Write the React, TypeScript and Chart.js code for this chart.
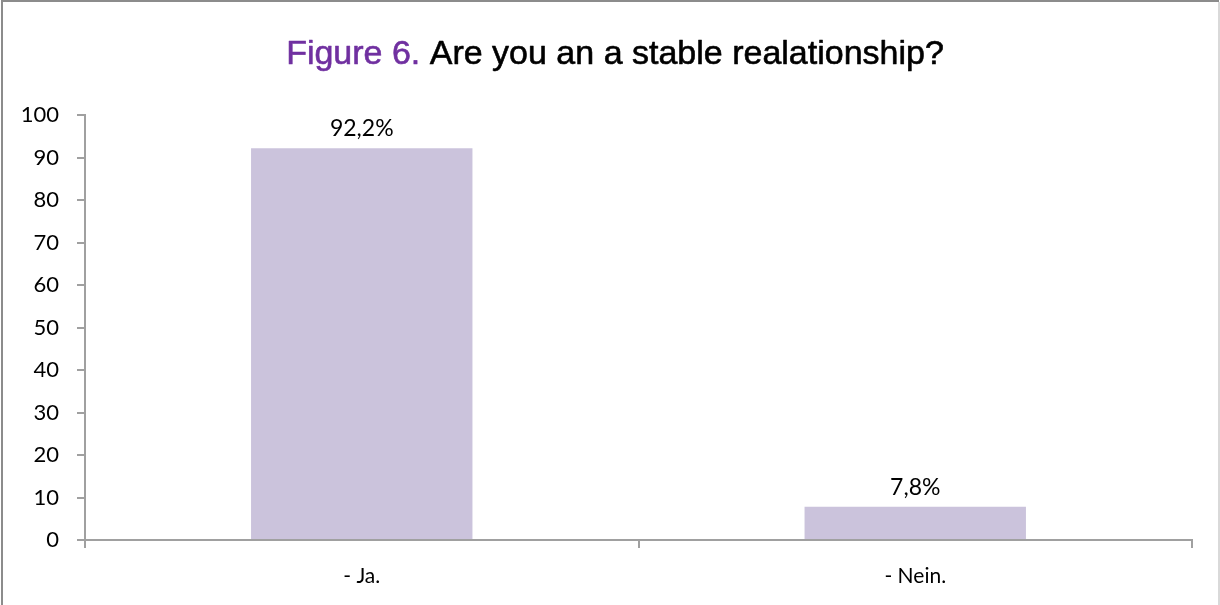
import React, { useEffect, useRef } from "react";
import { Chart, registerables } from "chart.js";

Chart.register(...registerables);

const categories = ["- Ja.", "- Nein."];
const values = [92.2, 7.8];
const yTicks = [0, 10, 20, 30, 40, 50, 60, 70, 80, 90, 100];
const titlePrefix = "Figure 6.";
const titleRest = " Are you an a stable realationship?";

const frameAndTitle = {
  id: "frameAndTitle",
  afterDraw(chart: any) {
    const ctx = chart.ctx;
    ctx.save();
    // frame
    ctx.strokeStyle = "#8c8c8c";
    ctx.lineWidth = 2;
    ctx.beginPath();
    ctx.moveTo(2, 605);
    ctx.lineTo(2, 1);
    ctx.lineTo(1219, 1);
    ctx.stroke();
    ctx.strokeStyle = "#d9d9d9";
    ctx.lineWidth = 2;
    ctx.beginPath();
    ctx.moveTo(1219, 2);
    ctx.lineTo(1219, 605);
    ctx.stroke();
    // title
    ctx.font = "34px 'Liberation Sans', Arial, sans-serif";
    ctx.textBaseline = "alphabetic";
    ctx.textAlign = "left";
    ctx.lineWidth = 0.6;
    ctx.lineJoin = "round";
    const w1 = ctx.measureText(titlePrefix).width;
    const w2 = ctx.measureText(titleRest).width;
    const start = 615 - (w1 + w2) / 2;
    ctx.fillStyle = "#7030A0";
    ctx.strokeStyle = "#7030A0";
    ctx.fillText(titlePrefix, start, 64);
    ctx.strokeText(titlePrefix, start, 64);
    ctx.fillStyle = "#000000";
    ctx.strokeStyle = "#000000";
    ctx.fillText(titleRest, start + w1, 64);
    ctx.strokeText(titleRest, start + w1, 64);
    ctx.restore();
  },
};

const dataLabels = {
  id: "dataLabels",
  afterDatasetsDraw(chart: any) {
    const ctx = chart.ctx;
    const meta = chart.getDatasetMeta(0);
    ctx.save();
    ctx.font = "23px Lato, 'Open Sans', sans-serif";
    ctx.fillStyle = "#000000";
    ctx.textAlign = "center";
    ctx.textBaseline = "alphabetic";
    meta.data.forEach((bar: any, i: number) => {
      const v = values[i];
      const txt = v.toFixed(1).replace(".", ",") + "%";
      ctx.fillText(txt, bar.x, bar.y - 12);
    });
    ctx.restore();
  },
};

export default function App() {
  const ref = useRef<HTMLCanvasElement | null>(null);
  useEffect(() => {
    if (!ref.current) return;
    const chart = new Chart(ref.current, {
      type: "bar",
      data: {
        labels: categories,
        datasets: [
          {
            data: values,
            backgroundColor: "#CBC3DC",
            borderWidth: 0,
            barPercentage: 0.8,
            categoryPercentage: 0.5,
          },
        ],
      },
      options: {
        animation: false,
        responsive: false,
        maintainAspectRatio: false,
        layout: { padding: { top: 115, left: 0, right: 28, bottom: 0 } },
        plugins: {
          legend: { display: false },
          title: { display: false },
          tooltip: { enabled: false },
        },
        scales: {
          x: {
            offset: true,
            grid: {
              offset: true,
              drawOnChartArea: false,
              drawTicks: true,
              tickLength: 8,
              color: "#A0A0A0",
              lineWidth: 2,
            },
            border: { display: true, color: "#A0A0A0", width: 2 },
            ticks: {
              color: "#000000",
              font: { family: "Lato, 'Open Sans', sans-serif", size: 21 },
              padding: 16,
            },
            afterFit(scale: any) {
              scale.height = 65;
              scale.paddingLeft = 0;
              scale.paddingRight = 0;
            },
          },
          y: {
            min: 0,
            max: 100,
            afterBuildTicks(scale: any) {
              scale.ticks = yTicks.map((v) => ({ value: v }));
            },
            grid: {
              drawOnChartArea: false,
              drawTicks: true,
              tickLength: 8,
              color: "#A0A0A0",
              lineWidth: 2,
            },
            border: { display: true, color: "#A0A0A0", width: 2 },
            ticks: {
              color: "#000000",
              font: { family: "Lato, 'Open Sans', sans-serif", size: 22 },
              padding: 18,
            },
            afterFit(scale: any) {
              scale.width = 85;
              scale.paddingTop = 0;
              scale.paddingBottom = 0;
            },
          },
        },
      },
      plugins: [frameAndTitle, dataLabels],
    });
    return () => chart.destroy();
  }, []);
  return (
    <div style={{ position: "absolute", left: 0, top: 0, width: 1220, height: 605, background: "#ffffff" }}>
      <canvas ref={ref} width={1220} height={605} style={{ width: 1220, height: 605 }} />
    </div>
  );
}
